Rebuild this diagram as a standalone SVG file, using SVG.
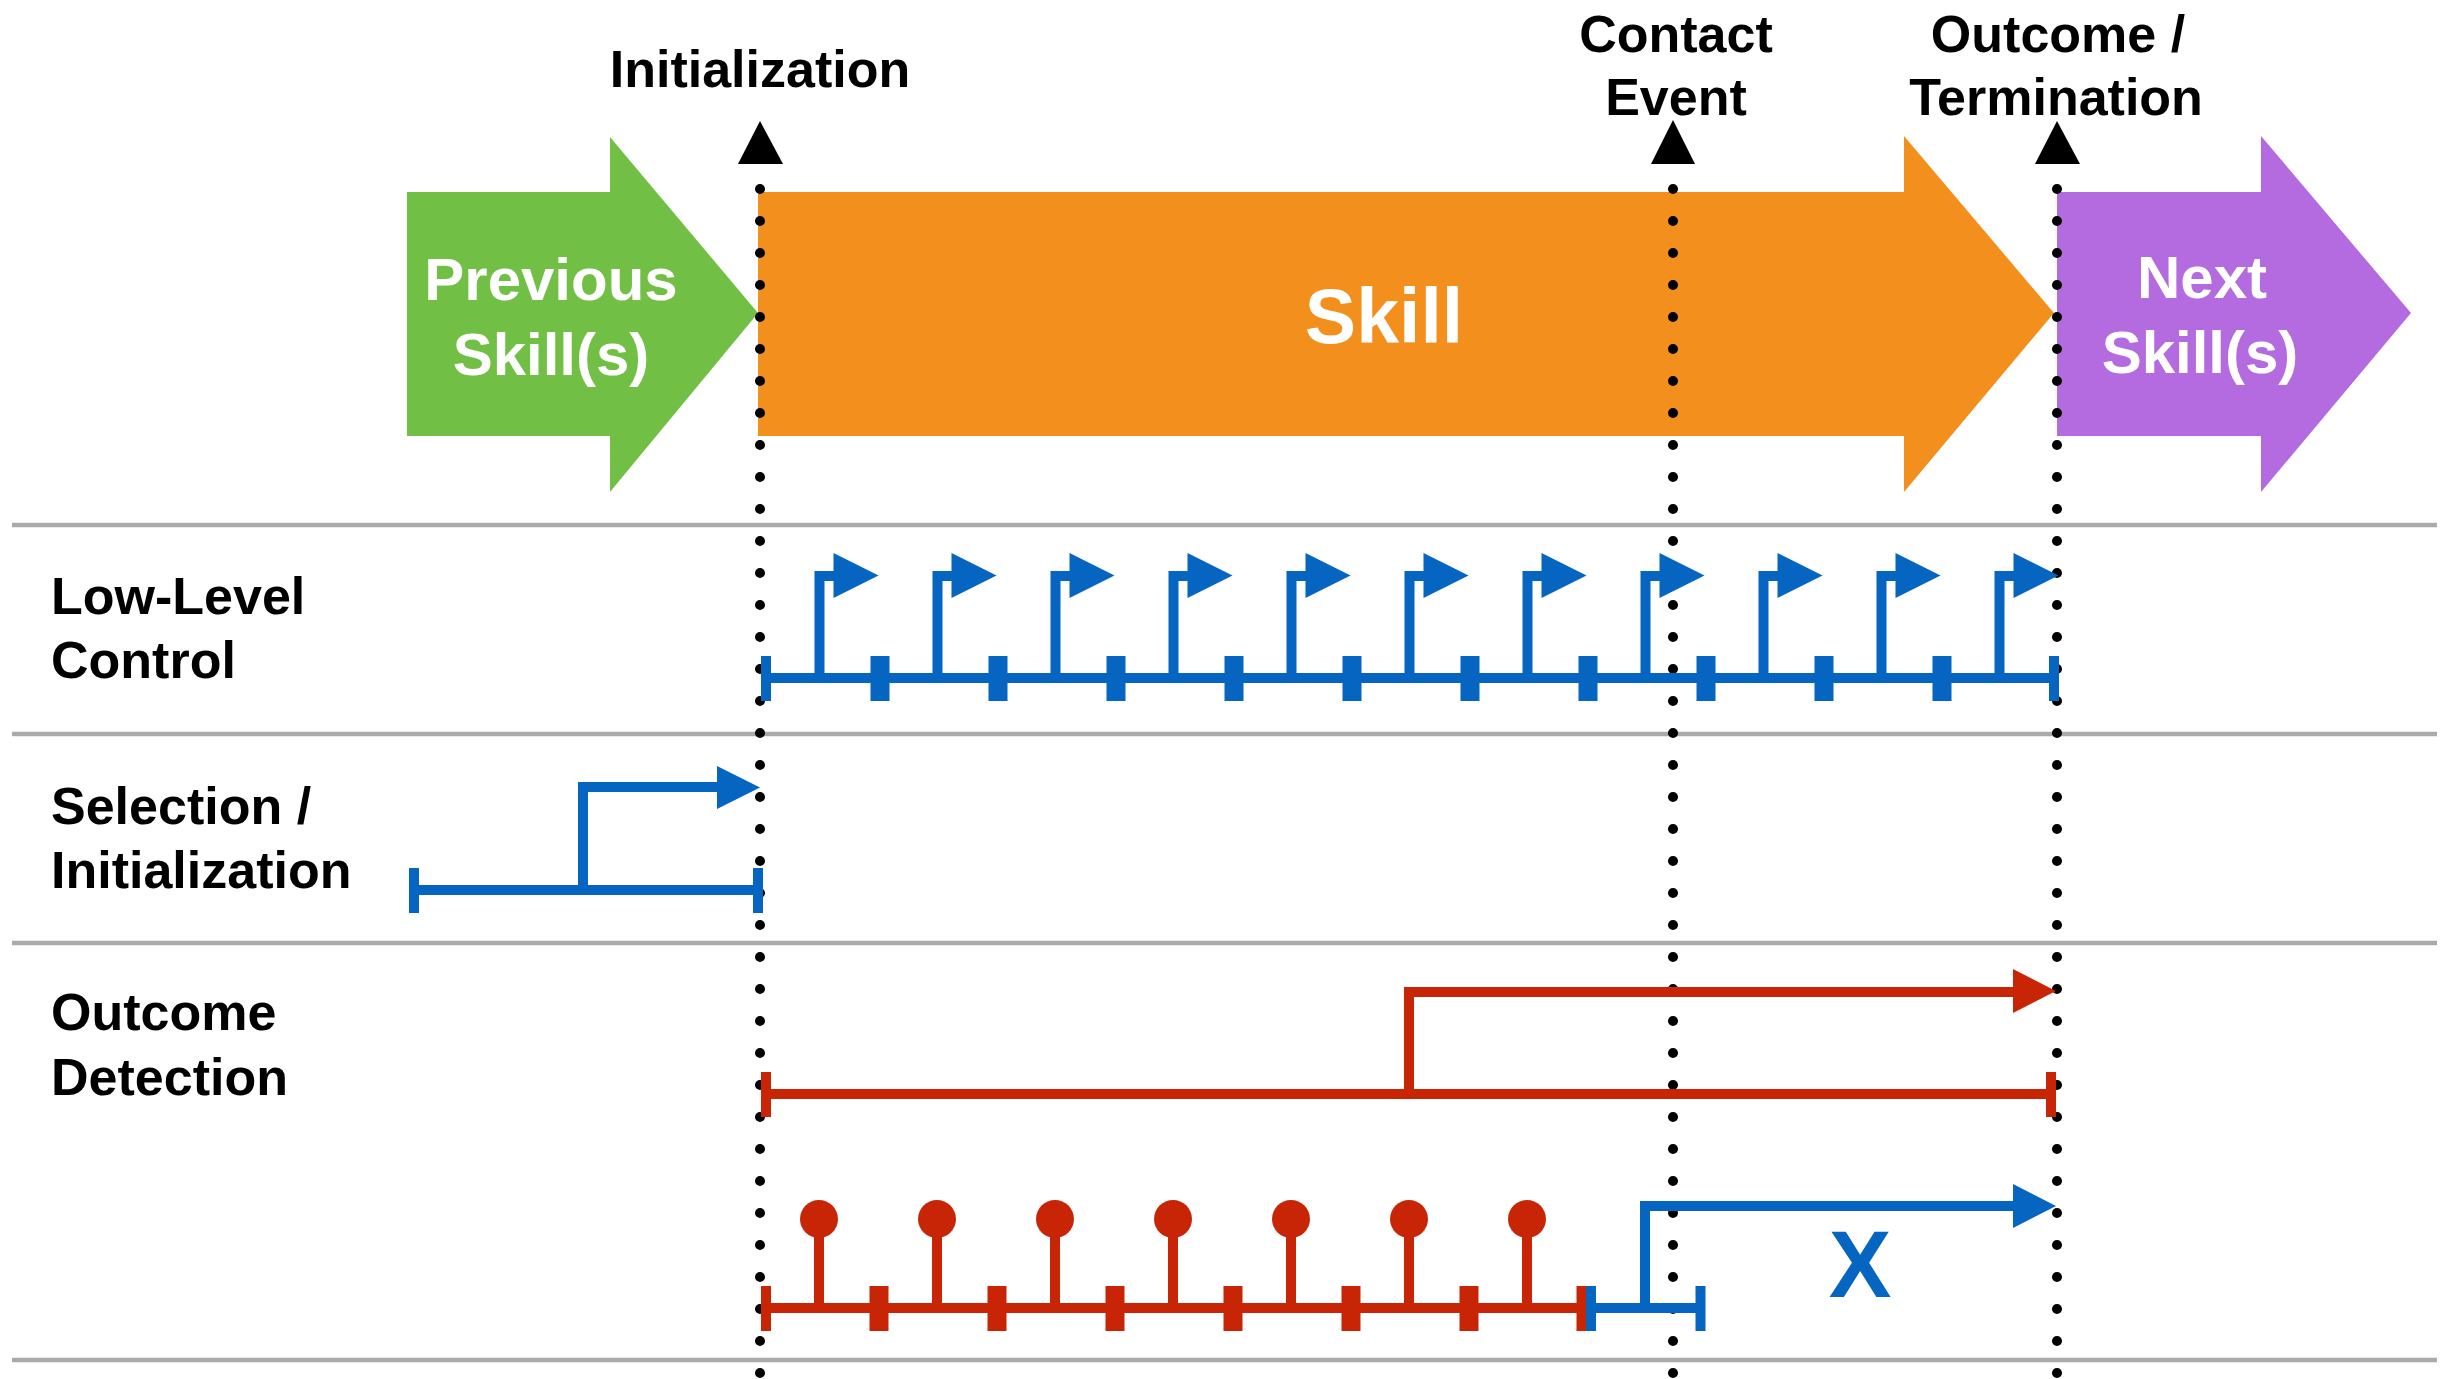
<svg xmlns="http://www.w3.org/2000/svg" xmlns:xlink="http://www.w3.org/1999/xlink" width="2452" height="1379" viewBox="0 0 2452 1379">
  <style>
    .lbl { font-family: "Liberation Sans", Arial, Helvetica, sans-serif; font-weight: bold; font-size: 52px; fill: #000; }
    .phase { font-family: "Liberation Sans", Arial, Helvetica, sans-serif; font-weight: bold; font-size: 60px; fill: #fff; text-anchor: middle; }
    .mid { text-anchor: middle; }
    .rule { stroke: #aaaaaa; stroke-width: 4.5; }
    .dots { stroke: #000; stroke-width: 10; stroke-linecap: round; stroke-dasharray: 0 32; fill: none; }
    .blue { fill: #0565c0; }
    .red { fill: #c82506; }
    .bline { stroke: #0565c0; stroke-width: 10; fill: none; }
    .rline { stroke: #c82506; stroke-width: 10; fill: none; }
  </style>
  <defs>
    <!-- control step flag: stem rising from the time axis, ending in a right-pointing head -->
    <path id="flag" d="M-5,0 V-107 H14 V-125 L59,-102.5 L14,-80 V-97 H5 V0 Z"/>
    <!-- sample tick on a time axis -->
    <rect id="tick" x="-9.5" y="-22" width="19" height="45"/>
    <rect id="endtick" x="-5" y="-22" width="10" height="45"/>
    <!-- detection sample: stem with round head -->
    <g id="pop">
      <rect x="-5" y="-89" width="10" height="89"/>
      <circle cx="0" cy="-89" r="19"/>
    </g>
  </defs>

  <rect width="2452" height="1379" fill="#fff"/>

  <!-- lane separators -->
  <g id="rules">
    <line class="rule" x1="12" y1="525" x2="2437" y2="525"/>
    <line class="rule" x1="12" y1="734" x2="2437" y2="734"/>
    <line class="rule" x1="12" y1="943" x2="2437" y2="943"/>
    <line class="rule" x1="12" y1="1360" x2="2437" y2="1360"/>
  </g>

  <!-- phase arrows -->
  <g id="previous-skill">
    <polygon fill="#71bf44" points="407,192 610,192 610,137 758,313 610,492 610,436 407,436"/>
    <text class="phase" x="551" y="300">Previous</text>
    <text class="phase" x="551" y="375">Skill(s)</text>
  </g>
  <g id="skill">
    <polygon fill="#f3901d" points="758,192 1904,192 1904,136 2054,313 1904,492 1904,436 758,436"/>
    <text class="phase" x="1384" y="343" style="font-size:77px">Skill</text>
  </g>
  <g id="next-skill">
    <polygon fill="#b36bdf" points="2057,192 2261,192 2261,136 2411,313 2261,492 2261,436 2057,436"/>
    <text class="phase" x="2202" y="298">Next</text>
    <text class="phase" x="2200" y="373">Skill(s)</text>
  </g>

  <!-- event markers -->
  <g id="event-initialization">
    <text class="lbl mid" x="760" y="87">Initialization</text>
    <polygon points="760,121 783,164 738,164"/>
  </g>
  <g id="event-contact">
    <text class="lbl mid" x="1676" y="52">Contact</text>
    <text class="lbl mid" x="1676" y="115">Event</text>
    <polygon points="1673,120 1695,164 1651,164"/>
  </g>
  <g id="event-outcome">
    <text class="lbl mid" x="2058" y="52">Outcome /</text>
    <text class="lbl mid" x="2056" y="115">Termination</text>
    <polygon points="2057,121 2080,164 2035,164"/>
  </g>

  <!-- lane titles -->
  <g id="lane-labels">
    <text class="lbl" x="51" y="614">Low-Level</text>
    <text class="lbl" x="51" y="678">Control</text>
    <text class="lbl" x="51" y="824">Selection /</text>
    <text class="lbl" x="51" y="888">Initialization</text>
    <text class="lbl" x="51" y="1030">Outcome</text>
    <text class="lbl" x="51" y="1095">Detection</text>
  </g>

  <!-- dotted event lines -->
  <g id="event-lines">
    <line class="dots" x1="760" y1="189" x2="760" y2="1379"/>
    <line class="dots" x1="1673" y1="189" x2="1673" y2="1379"/>
    <line class="dots" x1="2057" y1="189" x2="2057" y2="1379"/>
  </g>

  <!-- low-level control lane -->
  <g id="low-level-control" class="blue">
    <rect x="766" y="673" width="1288" height="10"/>
    <use xlink:href="#endtick" x="766" y="678"/>
    <use xlink:href="#endtick" x="2054" y="678"/>
    <use xlink:href="#tick" x="880" y="678"/>
    <use xlink:href="#tick" x="998" y="678"/>
    <use xlink:href="#tick" x="1116" y="678"/>
    <use xlink:href="#tick" x="1234" y="678"/>
    <use xlink:href="#tick" x="1352" y="678"/>
    <use xlink:href="#tick" x="1470" y="678"/>
    <use xlink:href="#tick" x="1588" y="678"/>
    <use xlink:href="#tick" x="1706" y="678"/>
    <use xlink:href="#tick" x="1824" y="678"/>
    <use xlink:href="#tick" x="1942" y="678"/>
    <use xlink:href="#flag" x="819.5" y="678"/>
    <use xlink:href="#flag" x="937.5" y="678"/>
    <use xlink:href="#flag" x="1055.5" y="678"/>
    <use xlink:href="#flag" x="1173.5" y="678"/>
    <use xlink:href="#flag" x="1291.5" y="678"/>
    <use xlink:href="#flag" x="1409.5" y="678"/>
    <use xlink:href="#flag" x="1527.5" y="678"/>
    <use xlink:href="#flag" x="1645.5" y="678"/>
    <use xlink:href="#flag" x="1763.5" y="678"/>
    <use xlink:href="#flag" x="1881.5" y="678"/>
    <use xlink:href="#flag" x="1999.5" y="678"/>
  </g>

  <!-- selection / initialization lane -->
  <g id="selection-initialization">
    <line class="bline" x1="414" y1="890" x2="758" y2="890"/>
    <use class="blue" xlink:href="#endtick" x="414" y="890"/>
    <use class="blue" xlink:href="#endtick" x="758" y="890"/>
    <polyline class="bline" points="583,890 583,787 720,787"/>
    <polygon class="blue" points="717,766 760,787.5 717,809"/>
  </g>

  <!-- outcome detection lane: continuous detector -->
  <g id="outcome-continuous">
    <line class="rline" x1="766" y1="1094" x2="2051" y2="1094"/>
    <use class="red" xlink:href="#endtick" x="766" y="1094"/>
    <use class="red" xlink:href="#endtick" x="2051" y="1094"/>
    <polyline class="rline" points="1409,1094 1409,992 2016,992"/>
    <polygon class="red" points="2013,969 2056,991 2013,1013"/>
  </g>

  <!-- outcome detection lane: sampled detector -->
  <g id="outcome-sampled" class="red">
    <rect x="766" y="1303" width="816" height="10"/>
    <use xlink:href="#endtick" x="766" y="1308"/>
    <use xlink:href="#endtick" x="1581.5" y="1308"/>
    <use xlink:href="#tick" x="879" y="1308"/>
    <use xlink:href="#tick" x="997" y="1308"/>
    <use xlink:href="#tick" x="1115" y="1308"/>
    <use xlink:href="#tick" x="1233" y="1308"/>
    <use xlink:href="#tick" x="1351" y="1308"/>
    <use xlink:href="#tick" x="1469" y="1308"/>
    <use xlink:href="#pop" x="819" y="1308"/>
    <use xlink:href="#pop" x="937" y="1308"/>
    <use xlink:href="#pop" x="1055" y="1308"/>
    <use xlink:href="#pop" x="1173" y="1308"/>
    <use xlink:href="#pop" x="1291" y="1308"/>
    <use xlink:href="#pop" x="1409" y="1308"/>
    <use xlink:href="#pop" x="1527" y="1308"/>
  </g>

  <!-- post-contact branch -->
  <g id="post-contact">
    <line class="bline" x1="1591" y1="1308" x2="1700" y2="1308"/>
    <use class="blue" xlink:href="#endtick" x="1591" y="1308"/>
    <use class="blue" xlink:href="#endtick" x="1700.5" y="1308"/>
    <polyline class="bline" points="1645,1308 1645,1206 2016,1206"/>
    <polygon class="blue" points="2013,1184 2056,1206 2013,1228"/>
    <text x="1860" y="1297" class="blue" text-anchor="middle" style="font-family:'Liberation Sans', Arial, sans-serif;font-weight:bold;font-size:94px">X</text>
  </g>
</svg>
